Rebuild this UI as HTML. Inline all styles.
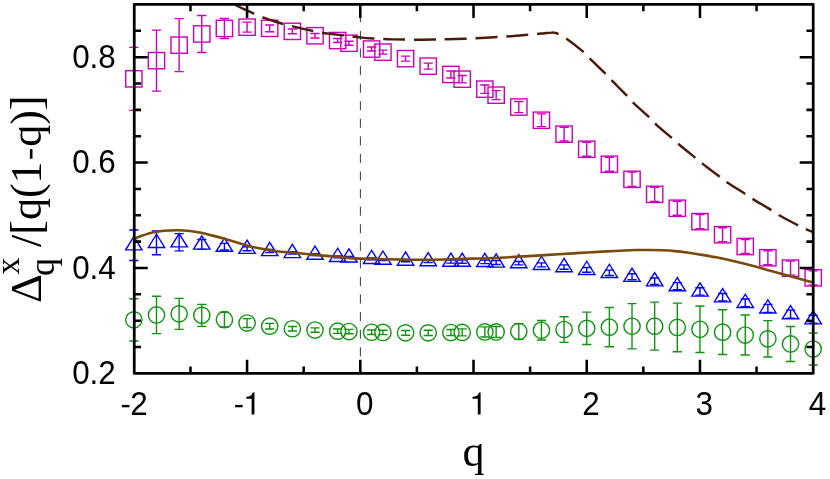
<!DOCTYPE html><html><head><meta charset="utf-8"><title>chart</title>
<style>html,body{margin:0;padding:0;background:#fff;}svg{display:block;will-change:transform;}text{font-family:"Liberation Sans",sans-serif;fill:#000;}.s{font-family:"Liberation Serif",serif;}</style></head><body>
<svg width="830" height="479" viewBox="0 0 830 479">
<rect width="830" height="479" fill="#fff"/>
<g>
<rect x="125.70" y="70.70" width="16.30" height="16.30" fill="none" stroke="#cc00b8" stroke-width="1.40"/>
<path d="M133.85,47.35V110.35M129.25,47.35H138.45M129.25,110.35H138.45" stroke="#cc00b8" stroke-width="1.40" fill="none"/>
<rect x="148.34" y="52.50" width="16.30" height="16.30" fill="none" stroke="#cc00b8" stroke-width="1.40"/>
<path d="M156.49,30.15V91.15M151.89,30.15H161.09M151.89,91.15H161.09" stroke="#cc00b8" stroke-width="1.40" fill="none"/>
<rect x="170.99" y="37.00" width="16.30" height="16.30" fill="none" stroke="#cc00b8" stroke-width="1.40"/>
<path d="M179.14,18.65V71.65M174.54,18.65H183.74M174.54,71.65H183.74" stroke="#cc00b8" stroke-width="1.40" fill="none"/>
<rect x="193.63" y="25.80" width="16.30" height="16.30" fill="none" stroke="#cc00b8" stroke-width="1.40"/>
<path d="M201.78,15.45V52.45M197.18,15.45H206.38M197.18,52.45H206.38" stroke="#cc00b8" stroke-width="1.40" fill="none"/>
<rect x="216.28" y="20.30" width="16.30" height="16.30" fill="none" stroke="#cc00b8" stroke-width="1.40"/>
<path d="M224.43,18.45V38.45M219.83,18.45H229.03M219.83,38.45H229.03" stroke="#cc00b8" stroke-width="1.40" fill="none"/>
<rect x="238.92" y="19.00" width="16.30" height="16.30" fill="none" stroke="#cc00b8" stroke-width="1.40"/>
<path d="M247.07,22.15V32.15M242.47,22.15H251.67M242.47,32.15H251.67" stroke="#cc00b8" stroke-width="1.40" fill="none"/>
<rect x="261.56" y="20.20" width="16.30" height="16.30" fill="none" stroke="#cc00b8" stroke-width="1.40"/>
<path d="M269.71,24.95V31.75M265.11,24.95H274.31M265.11,31.75H274.31" stroke="#cc00b8" stroke-width="1.40" fill="none"/>
<rect x="284.21" y="23.20" width="16.30" height="16.30" fill="none" stroke="#cc00b8" stroke-width="1.40"/>
<path d="M292.36,28.95V33.75M287.76,28.95H296.96M287.76,33.75H296.96" stroke="#cc00b8" stroke-width="1.40" fill="none"/>
<rect x="306.85" y="27.60" width="16.30" height="16.30" fill="none" stroke="#cc00b8" stroke-width="1.40"/>
<path d="M315.00,33.55V37.95M310.40,33.55H319.60M310.40,37.95H319.60" stroke="#cc00b8" stroke-width="1.40" fill="none"/>
<rect x="329.50" y="32.40" width="16.30" height="16.30" fill="none" stroke="#cc00b8" stroke-width="1.40"/>
<path d="M337.65,38.55V42.55M333.05,38.55H342.25M333.05,42.55H342.25" stroke="#cc00b8" stroke-width="1.40" fill="none"/>
<rect x="340.82" y="35.10" width="16.30" height="16.30" fill="none" stroke="#cc00b8" stroke-width="1.40"/>
<path d="M348.97,41.25V45.25M344.37,41.25H353.57M344.37,45.25H353.57" stroke="#cc00b8" stroke-width="1.40" fill="none"/>
<rect x="363.46" y="40.90" width="16.30" height="16.30" fill="none" stroke="#cc00b8" stroke-width="1.40"/>
<path d="M371.61,47.05V51.05M367.01,47.05H376.21M367.01,51.05H376.21" stroke="#cc00b8" stroke-width="1.40" fill="none"/>
<rect x="374.78" y="44.00" width="16.30" height="16.30" fill="none" stroke="#cc00b8" stroke-width="1.40"/>
<path d="M382.93,50.15V54.15M378.33,50.15H387.53M378.33,54.15H387.53" stroke="#cc00b8" stroke-width="1.40" fill="none"/>
<rect x="397.43" y="50.50" width="16.30" height="16.30" fill="none" stroke="#cc00b8" stroke-width="1.40"/>
<path d="M405.58,56.15V61.15M400.98,56.15H410.18M400.98,61.15H410.18" stroke="#cc00b8" stroke-width="1.40" fill="none"/>
<rect x="420.07" y="58.00" width="16.30" height="16.30" fill="none" stroke="#cc00b8" stroke-width="1.40"/>
<path d="M428.22,63.15V69.15M423.62,63.15H432.82M423.62,69.15H432.82" stroke="#cc00b8" stroke-width="1.40" fill="none"/>
<rect x="442.72" y="66.30" width="16.30" height="16.30" fill="none" stroke="#cc00b8" stroke-width="1.40"/>
<path d="M450.87,70.95V77.95M446.27,70.95H455.47M446.27,77.95H455.47" stroke="#cc00b8" stroke-width="1.40" fill="none"/>
<rect x="454.04" y="71.00" width="16.30" height="16.30" fill="none" stroke="#cc00b8" stroke-width="1.40"/>
<path d="M462.19,75.45V82.85M457.59,75.45H466.79M457.59,82.85H466.79" stroke="#cc00b8" stroke-width="1.40" fill="none"/>
<rect x="476.68" y="81.00" width="16.30" height="16.30" fill="none" stroke="#cc00b8" stroke-width="1.40"/>
<path d="M484.83,84.95V93.35M480.23,84.95H489.43M480.23,93.35H489.43" stroke="#cc00b8" stroke-width="1.40" fill="none"/>
<rect x="488.00" y="87.00" width="16.30" height="16.30" fill="none" stroke="#cc00b8" stroke-width="1.40"/>
<path d="M496.15,90.65V99.65M491.55,90.65H500.75M491.55,99.65H500.75" stroke="#cc00b8" stroke-width="1.40" fill="none"/>
<rect x="510.65" y="98.90" width="16.30" height="16.30" fill="none" stroke="#cc00b8" stroke-width="1.40"/>
<path d="M518.80,101.45V112.65M514.20,101.45H523.40M514.20,112.65H523.40" stroke="#cc00b8" stroke-width="1.40" fill="none"/>
<rect x="533.29" y="112.10" width="16.30" height="16.30" fill="none" stroke="#cc00b8" stroke-width="1.40"/>
<path d="M541.44,113.85V126.65M536.84,113.85H546.04M536.84,126.65H546.04" stroke="#cc00b8" stroke-width="1.40" fill="none"/>
<rect x="555.94" y="126.00" width="16.30" height="16.30" fill="none" stroke="#cc00b8" stroke-width="1.40"/>
<path d="M564.09,127.25V141.05M559.49,127.25H568.69M559.49,141.05H568.69" stroke="#cc00b8" stroke-width="1.40" fill="none"/>
<rect x="578.58" y="141.10" width="16.30" height="16.30" fill="none" stroke="#cc00b8" stroke-width="1.40"/>
<path d="M586.73,142.25V156.25M582.13,142.25H591.33M582.13,156.25H591.33" stroke="#cc00b8" stroke-width="1.40" fill="none"/>
<rect x="601.22" y="156.10" width="16.30" height="16.30" fill="none" stroke="#cc00b8" stroke-width="1.40"/>
<path d="M609.37,157.25V171.25M604.77,157.25H613.97M604.77,171.25H613.97" stroke="#cc00b8" stroke-width="1.40" fill="none"/>
<rect x="623.87" y="171.20" width="16.30" height="16.30" fill="none" stroke="#cc00b8" stroke-width="1.40"/>
<path d="M632.02,172.15V186.55M627.42,172.15H636.62M627.42,186.55H636.62" stroke="#cc00b8" stroke-width="1.40" fill="none"/>
<rect x="646.51" y="186.20" width="16.30" height="16.30" fill="none" stroke="#cc00b8" stroke-width="1.40"/>
<path d="M654.66,187.35V201.35M650.06,187.35H659.26M650.06,201.35H659.26" stroke="#cc00b8" stroke-width="1.40" fill="none"/>
<rect x="669.16" y="200.10" width="16.30" height="16.30" fill="none" stroke="#cc00b8" stroke-width="1.40"/>
<path d="M677.31,201.25V215.25M672.71,201.25H681.91M672.71,215.25H681.91" stroke="#cc00b8" stroke-width="1.40" fill="none"/>
<rect x="691.80" y="213.50" width="16.30" height="16.30" fill="none" stroke="#cc00b8" stroke-width="1.40"/>
<path d="M699.95,214.65V228.65M695.35,214.65H704.55M695.35,228.65H704.55" stroke="#cc00b8" stroke-width="1.40" fill="none"/>
<rect x="714.44" y="226.60" width="16.30" height="16.30" fill="none" stroke="#cc00b8" stroke-width="1.40"/>
<path d="M722.59,227.75V241.75M717.99,227.75H727.19M717.99,241.75H727.19" stroke="#cc00b8" stroke-width="1.40" fill="none"/>
<rect x="737.09" y="238.40" width="16.30" height="16.30" fill="none" stroke="#cc00b8" stroke-width="1.40"/>
<path d="M745.24,239.55V253.55M740.64,239.55H749.84M740.64,253.55H749.84" stroke="#cc00b8" stroke-width="1.40" fill="none"/>
<rect x="759.73" y="249.60" width="16.30" height="16.30" fill="none" stroke="#cc00b8" stroke-width="1.40"/>
<path d="M767.88,250.75V264.75M763.28,250.75H772.48M763.28,264.75H772.48" stroke="#cc00b8" stroke-width="1.40" fill="none"/>
<rect x="782.38" y="260.00" width="16.30" height="16.30" fill="none" stroke="#cc00b8" stroke-width="1.40"/>
<path d="M790.53,261.15V275.15M785.93,261.15H795.13M785.93,275.15H795.13" stroke="#cc00b8" stroke-width="1.40" fill="none"/>
<rect x="805.02" y="269.70" width="16.30" height="16.30" fill="none" stroke="#cc00b8" stroke-width="1.40"/>
<path d="M813.17,270.85V284.85M808.57,270.85H817.77M808.57,284.85H817.77" stroke="#cc00b8" stroke-width="1.40" fill="none"/>
<path d="M133.85,236.65L125.65,249.90L142.05,249.90Z" fill="none" stroke="#0000ff" stroke-width="1.40"/>
<path d="M133.85,230.03V260.43M129.25,230.03H138.45M129.25,260.43H138.45" stroke="#0000ff" stroke-width="1.40" fill="none"/>
<path d="M156.49,234.25L148.29,247.50L164.69,247.50Z" fill="none" stroke="#0000ff" stroke-width="1.40"/>
<path d="M156.49,230.93V254.73M151.89,230.93H161.09M151.89,254.73H161.09" stroke="#0000ff" stroke-width="1.40" fill="none"/>
<path d="M179.14,233.65L170.94,246.90L187.34,246.90Z" fill="none" stroke="#0000ff" stroke-width="1.40"/>
<path d="M179.14,233.63V250.83M174.54,233.63H183.74M174.54,250.83H183.74" stroke="#0000ff" stroke-width="1.40" fill="none"/>
<path d="M201.78,235.85L193.58,249.10L209.98,249.10Z" fill="none" stroke="#0000ff" stroke-width="1.40"/>
<path d="M201.78,239.53V249.33M197.18,239.53H206.38M197.18,249.33H206.38" stroke="#0000ff" stroke-width="1.40" fill="none"/>
<path d="M224.43,238.05L216.23,251.30L232.63,251.30Z" fill="none" stroke="#0000ff" stroke-width="1.40"/>
<path d="M224.43,243.33V249.93M219.83,243.33H229.03M219.83,249.93H229.03" stroke="#0000ff" stroke-width="1.40" fill="none"/>
<path d="M247.07,240.15L238.87,253.40L255.27,253.40Z" fill="none" stroke="#0000ff" stroke-width="1.40"/>
<path d="M247.07,246.73V250.73M242.47,246.73H251.67M242.47,250.73H251.67" stroke="#0000ff" stroke-width="1.40" fill="none"/>
<path d="M269.71,242.35L261.51,255.60L277.91,255.60Z" fill="none" stroke="#0000ff" stroke-width="1.40"/>
<path d="M269.71,249.43V252.43M265.11,249.43H274.31M265.11,252.43H274.31" stroke="#0000ff" stroke-width="1.40" fill="none"/>
<path d="M292.36,244.35L284.16,257.60L300.56,257.60Z" fill="none" stroke="#0000ff" stroke-width="1.40"/>
<path d="M292.36,251.73V254.13M287.76,251.73H296.96M287.76,254.13H296.96" stroke="#0000ff" stroke-width="1.40" fill="none"/>
<path d="M315.00,246.05L306.80,259.30L323.20,259.30Z" fill="none" stroke="#0000ff" stroke-width="1.40"/>
<path d="M315.00,253.63V255.63M310.40,253.63H319.60M310.40,255.63H319.60" stroke="#0000ff" stroke-width="1.40" fill="none"/>
<path d="M337.65,248.25L329.45,261.50L345.85,261.50Z" fill="none" stroke="#0000ff" stroke-width="1.40"/>
<path d="M337.65,255.83V257.83M333.05,255.83H342.25M333.05,257.83H342.25" stroke="#0000ff" stroke-width="1.40" fill="none"/>
<path d="M348.97,248.80L340.77,262.05L357.17,262.05Z" fill="none" stroke="#0000ff" stroke-width="1.40"/>
<path d="M348.97,256.38V258.38M344.37,256.38H353.57M344.37,258.38H353.57" stroke="#0000ff" stroke-width="1.40" fill="none"/>
<path d="M371.61,250.25L363.41,263.50L379.81,263.50Z" fill="none" stroke="#0000ff" stroke-width="1.40"/>
<path d="M371.61,257.83V259.83M367.01,257.83H376.21M367.01,259.83H376.21" stroke="#0000ff" stroke-width="1.40" fill="none"/>
<path d="M382.93,251.00L374.73,264.25L391.13,264.25Z" fill="none" stroke="#0000ff" stroke-width="1.40"/>
<path d="M382.93,258.58V260.58M378.33,258.58H387.53M378.33,260.58H387.53" stroke="#0000ff" stroke-width="1.40" fill="none"/>
<path d="M405.58,251.95L397.38,265.20L413.78,265.20Z" fill="none" stroke="#0000ff" stroke-width="1.40"/>
<path d="M405.58,259.33V261.73M400.98,259.33H410.18M400.98,261.73H410.18" stroke="#0000ff" stroke-width="1.40" fill="none"/>
<path d="M428.22,252.55L420.02,265.80L436.42,265.80Z" fill="none" stroke="#0000ff" stroke-width="1.40"/>
<path d="M428.22,259.83V262.43M423.62,259.83H432.82M423.62,262.43H432.82" stroke="#0000ff" stroke-width="1.40" fill="none"/>
<path d="M450.87,253.05L442.67,266.30L459.07,266.30Z" fill="none" stroke="#0000ff" stroke-width="1.40"/>
<path d="M450.87,260.13V263.13M446.27,260.13H455.47M446.27,263.13H455.47" stroke="#0000ff" stroke-width="1.40" fill="none"/>
<path d="M462.19,253.05L453.99,266.30L470.39,266.30Z" fill="none" stroke="#0000ff" stroke-width="1.40"/>
<path d="M462.19,260.03V263.23M457.59,260.03H466.79M457.59,263.23H466.79" stroke="#0000ff" stroke-width="1.40" fill="none"/>
<path d="M484.83,253.25L476.63,266.50L493.03,266.50Z" fill="none" stroke="#0000ff" stroke-width="1.40"/>
<path d="M484.83,260.03V263.63M480.23,260.03H489.43M480.23,263.63H489.43" stroke="#0000ff" stroke-width="1.40" fill="none"/>
<path d="M496.15,253.85L487.95,267.10L504.35,267.10Z" fill="none" stroke="#0000ff" stroke-width="1.40"/>
<path d="M496.15,260.43V264.43M491.55,260.43H500.75M491.55,264.43H500.75" stroke="#0000ff" stroke-width="1.40" fill="none"/>
<path d="M518.80,254.55L510.60,267.80L527.00,267.80Z" fill="none" stroke="#0000ff" stroke-width="1.40"/>
<path d="M518.80,261.43V264.83M514.20,261.43H523.40M514.20,264.83H523.40" stroke="#0000ff" stroke-width="1.40" fill="none"/>
<path d="M541.44,256.25L533.24,269.50L549.64,269.50Z" fill="none" stroke="#0000ff" stroke-width="1.40"/>
<path d="M541.44,262.83V266.83M536.84,262.83H546.04M536.84,266.83H546.04" stroke="#0000ff" stroke-width="1.40" fill="none"/>
<path d="M564.09,258.45L555.89,271.70L572.29,271.70Z" fill="none" stroke="#0000ff" stroke-width="1.40"/>
<path d="M564.09,264.83V269.23M559.49,264.83H568.69M559.49,269.23H568.69" stroke="#0000ff" stroke-width="1.40" fill="none"/>
<path d="M586.73,261.25L578.53,274.50L594.93,274.50Z" fill="none" stroke="#0000ff" stroke-width="1.40"/>
<path d="M586.73,267.43V272.23M582.13,267.43H591.33M582.13,272.23H591.33" stroke="#0000ff" stroke-width="1.40" fill="none"/>
<path d="M609.37,264.25L601.17,277.50L617.57,277.50Z" fill="none" stroke="#0000ff" stroke-width="1.40"/>
<path d="M609.37,270.13V275.53M604.77,270.13H613.97M604.77,275.53H613.97" stroke="#0000ff" stroke-width="1.40" fill="none"/>
<path d="M632.02,268.15L623.82,281.40L640.22,281.40Z" fill="none" stroke="#0000ff" stroke-width="1.40"/>
<path d="M632.02,273.73V279.73M627.42,273.73H636.62M627.42,279.73H636.62" stroke="#0000ff" stroke-width="1.40" fill="none"/>
<path d="M654.66,272.65L646.46,285.90L662.86,285.90Z" fill="none" stroke="#0000ff" stroke-width="1.40"/>
<path d="M654.66,277.93V284.53M650.06,277.93H659.26M650.06,284.53H659.26" stroke="#0000ff" stroke-width="1.40" fill="none"/>
<path d="M677.31,277.55L669.11,290.80L685.51,290.80Z" fill="none" stroke="#0000ff" stroke-width="1.40"/>
<path d="M677.31,282.63V289.63M672.71,282.63H681.91M672.71,289.63H681.91" stroke="#0000ff" stroke-width="1.40" fill="none"/>
<path d="M699.95,282.85L691.75,296.10L708.15,296.10Z" fill="none" stroke="#0000ff" stroke-width="1.40"/>
<path d="M699.95,287.73V295.13M695.35,287.73H704.55M695.35,295.13H704.55" stroke="#0000ff" stroke-width="1.40" fill="none"/>
<path d="M722.59,288.65L714.39,301.90L730.79,301.90Z" fill="none" stroke="#0000ff" stroke-width="1.40"/>
<path d="M722.59,293.43V301.03M717.99,293.43H727.19M717.99,301.03H727.19" stroke="#0000ff" stroke-width="1.40" fill="none"/>
<path d="M745.24,294.25L737.04,307.50L753.44,307.50Z" fill="none" stroke="#0000ff" stroke-width="1.40"/>
<path d="M745.24,298.93V306.73M740.64,298.93H749.84M740.64,306.73H749.84" stroke="#0000ff" stroke-width="1.40" fill="none"/>
<path d="M767.88,299.75L759.68,313.00L776.08,313.00Z" fill="none" stroke="#0000ff" stroke-width="1.40"/>
<path d="M767.88,304.33V312.33M763.28,304.33H772.48M763.28,312.33H772.48" stroke="#0000ff" stroke-width="1.40" fill="none"/>
<path d="M790.53,305.55L782.33,318.80L798.73,318.80Z" fill="none" stroke="#0000ff" stroke-width="1.40"/>
<path d="M790.53,310.13V318.13M785.93,310.13H795.13M785.93,318.13H795.13" stroke="#0000ff" stroke-width="1.40" fill="none"/>
<path d="M813.17,310.65L804.97,323.90L821.37,323.90Z" fill="none" stroke="#0000ff" stroke-width="1.40"/>
<path d="M813.17,315.23V323.23M808.57,315.23H817.77M808.57,323.23H817.77" stroke="#0000ff" stroke-width="1.40" fill="none"/>
<circle cx="133.85" cy="319.85" r="8.15" fill="none" stroke="#109410" stroke-width="1.40"/>
<path d="M133.85,298.75V340.95M129.25,298.75H138.45M129.25,340.95H138.45" stroke="#109410" stroke-width="1.40" fill="none"/>
<circle cx="156.49" cy="314.95" r="8.15" fill="none" stroke="#109410" stroke-width="1.40"/>
<path d="M156.49,296.30V333.60M151.89,296.30H161.09M151.89,333.60H161.09" stroke="#109410" stroke-width="1.40" fill="none"/>
<circle cx="179.14" cy="313.85" r="8.15" fill="none" stroke="#109410" stroke-width="1.40"/>
<path d="M179.14,298.35V329.35M174.54,298.35H183.74M174.54,329.35H183.74" stroke="#109410" stroke-width="1.40" fill="none"/>
<circle cx="201.78" cy="315.35" r="8.15" fill="none" stroke="#109410" stroke-width="1.40"/>
<path d="M201.78,304.35V326.35M197.18,304.35H206.38M197.18,326.35H206.38" stroke="#109410" stroke-width="1.40" fill="none"/>
<circle cx="224.43" cy="319.65" r="8.15" fill="none" stroke="#109410" stroke-width="1.40"/>
<path d="M224.43,312.25V327.05M219.83,312.25H229.03M219.83,327.05H229.03" stroke="#109410" stroke-width="1.40" fill="none"/>
<circle cx="247.07" cy="323.05" r="8.15" fill="none" stroke="#109410" stroke-width="1.40"/>
<path d="M247.07,318.65V327.45M242.47,318.65H251.67M242.47,327.45H251.67" stroke="#109410" stroke-width="1.40" fill="none"/>
<circle cx="269.71" cy="326.15" r="8.15" fill="none" stroke="#109410" stroke-width="1.40"/>
<path d="M269.71,323.35V328.95M265.11,323.35H274.31M265.11,328.95H274.31" stroke="#109410" stroke-width="1.40" fill="none"/>
<circle cx="292.36" cy="328.75" r="8.15" fill="none" stroke="#109410" stroke-width="1.40"/>
<path d="M292.36,326.45V331.05M287.76,326.45H296.96M287.76,331.05H296.96" stroke="#109410" stroke-width="1.40" fill="none"/>
<circle cx="315.00" cy="330.05" r="8.15" fill="none" stroke="#109410" stroke-width="1.40"/>
<path d="M315.00,327.85V332.25M310.40,327.85H319.60M310.40,332.25H319.60" stroke="#109410" stroke-width="1.40" fill="none"/>
<circle cx="337.65" cy="331.15" r="8.15" fill="none" stroke="#109410" stroke-width="1.40"/>
<path d="M337.65,328.95V333.35M333.05,328.95H342.25M333.05,333.35H342.25" stroke="#109410" stroke-width="1.40" fill="none"/>
<circle cx="348.97" cy="331.55" r="8.15" fill="none" stroke="#109410" stroke-width="1.40"/>
<path d="M348.97,329.35V333.75M344.37,329.35H353.57M344.37,333.75H353.57" stroke="#109410" stroke-width="1.40" fill="none"/>
<circle cx="371.61" cy="332.25" r="8.15" fill="none" stroke="#109410" stroke-width="1.40"/>
<path d="M371.61,330.05V334.45M367.01,330.05H376.21M367.01,334.45H376.21" stroke="#109410" stroke-width="1.40" fill="none"/>
<circle cx="382.93" cy="332.45" r="8.15" fill="none" stroke="#109410" stroke-width="1.40"/>
<path d="M382.93,330.25V334.65M378.33,330.25H387.53M378.33,334.65H387.53" stroke="#109410" stroke-width="1.40" fill="none"/>
<circle cx="405.58" cy="332.85" r="8.15" fill="none" stroke="#109410" stroke-width="1.40"/>
<path d="M405.58,330.45V335.25M400.98,330.45H410.18M400.98,335.25H410.18" stroke="#109410" stroke-width="1.40" fill="none"/>
<circle cx="428.22" cy="332.85" r="8.15" fill="none" stroke="#109410" stroke-width="1.40"/>
<path d="M428.22,330.25V335.45M423.62,330.25H432.82M423.62,335.45H432.82" stroke="#109410" stroke-width="1.40" fill="none"/>
<circle cx="450.87" cy="332.55" r="8.15" fill="none" stroke="#109410" stroke-width="1.40"/>
<path d="M450.87,329.55V335.55M446.27,329.55H455.47M446.27,335.55H455.47" stroke="#109410" stroke-width="1.40" fill="none"/>
<circle cx="462.19" cy="332.40" r="8.15" fill="none" stroke="#109410" stroke-width="1.40"/>
<path d="M462.19,328.90V335.90M457.59,328.90H466.79M457.59,335.90H466.79" stroke="#109410" stroke-width="1.40" fill="none"/>
<circle cx="484.83" cy="331.95" r="8.15" fill="none" stroke="#109410" stroke-width="1.40"/>
<path d="M484.83,326.85V337.05M480.23,326.85H489.43M480.23,337.05H489.43" stroke="#109410" stroke-width="1.40" fill="none"/>
<circle cx="496.15" cy="331.95" r="8.15" fill="none" stroke="#109410" stroke-width="1.40"/>
<path d="M496.15,326.55V337.35M491.55,326.55H500.75M491.55,337.35H500.75" stroke="#109410" stroke-width="1.40" fill="none"/>
<circle cx="518.80" cy="331.55" r="8.15" fill="none" stroke="#109410" stroke-width="1.40"/>
<path d="M518.80,323.75V339.35M514.20,323.75H523.40M514.20,339.35H523.40" stroke="#109410" stroke-width="1.40" fill="none"/>
<circle cx="541.44" cy="330.25" r="8.15" fill="none" stroke="#109410" stroke-width="1.40"/>
<path d="M541.44,320.45V340.05M536.84,320.45H546.04M536.84,340.05H546.04" stroke="#109410" stroke-width="1.40" fill="none"/>
<circle cx="564.09" cy="329.55" r="8.15" fill="none" stroke="#109410" stroke-width="1.40"/>
<path d="M564.09,316.75V342.35M559.49,316.75H568.69M559.49,342.35H568.69" stroke="#109410" stroke-width="1.40" fill="none"/>
<circle cx="586.73" cy="328.35" r="8.15" fill="none" stroke="#109410" stroke-width="1.40"/>
<path d="M586.73,312.15V344.55M582.13,312.15H591.33M582.13,344.55H591.33" stroke="#109410" stroke-width="1.40" fill="none"/>
<circle cx="609.37" cy="327.15" r="8.15" fill="none" stroke="#109410" stroke-width="1.40"/>
<path d="M609.37,307.55V346.75M604.77,307.55H613.97M604.77,346.75H613.97" stroke="#109410" stroke-width="1.40" fill="none"/>
<circle cx="632.02" cy="326.25" r="8.15" fill="none" stroke="#109410" stroke-width="1.40"/>
<path d="M632.02,303.65V348.85M627.42,303.65H636.62M627.42,348.85H636.62" stroke="#109410" stroke-width="1.40" fill="none"/>
<circle cx="654.66" cy="326.15" r="8.15" fill="none" stroke="#109410" stroke-width="1.40"/>
<path d="M654.66,302.15V350.15M650.06,302.15H659.26M650.06,350.15H659.26" stroke="#109410" stroke-width="1.40" fill="none"/>
<circle cx="677.31" cy="327.45" r="8.15" fill="none" stroke="#109410" stroke-width="1.40"/>
<path d="M677.31,303.15V351.75M672.71,303.15H681.91M672.71,351.75H681.91" stroke="#109410" stroke-width="1.40" fill="none"/>
<circle cx="699.95" cy="329.25" r="8.15" fill="none" stroke="#109410" stroke-width="1.40"/>
<path d="M699.95,305.95V352.55M695.35,305.95H704.55M695.35,352.55H704.55" stroke="#109410" stroke-width="1.40" fill="none"/>
<circle cx="722.59" cy="332.15" r="8.15" fill="none" stroke="#109410" stroke-width="1.40"/>
<path d="M722.59,309.75V354.55M717.99,309.75H727.19M717.99,354.55H727.19" stroke="#109410" stroke-width="1.40" fill="none"/>
<circle cx="745.24" cy="335.05" r="8.15" fill="none" stroke="#109410" stroke-width="1.40"/>
<path d="M745.24,315.05V355.05M740.64,315.05H749.84M740.64,355.05H749.84" stroke="#109410" stroke-width="1.40" fill="none"/>
<circle cx="767.88" cy="338.85" r="8.15" fill="none" stroke="#109410" stroke-width="1.40"/>
<path d="M767.88,320.65V357.05M763.28,320.65H772.48M763.28,357.05H772.48" stroke="#109410" stroke-width="1.40" fill="none"/>
<circle cx="790.53" cy="343.95" r="8.15" fill="none" stroke="#109410" stroke-width="1.40"/>
<path d="M790.53,326.45V361.45M785.93,326.45H795.13M785.93,361.45H795.13" stroke="#109410" stroke-width="1.40" fill="none"/>
<circle cx="813.17" cy="349.05" r="8.15" fill="none" stroke="#109410" stroke-width="1.40"/>
<path d="M813.17,333.05V365.05M808.57,333.05H817.77M808.57,365.05H817.77" stroke="#109410" stroke-width="1.40" fill="none"/>
</g>
<path d="M235.20,4.80 C236.67,5.53 240.75,7.68 244.00,9.20 C247.25,10.72 251.58,12.55 254.70,13.90 C257.82,15.25 259.82,16.20 262.70,17.30 C265.58,18.40 268.57,19.38 272.00,20.50 C275.43,21.62 279.97,23.05 283.30,24.00 C286.63,24.95 288.88,25.43 292.00,26.20 C295.12,26.97 298.45,27.80 302.00,28.60 C305.55,29.40 309.97,30.32 313.30,31.00 C316.63,31.68 318.88,32.20 322.00,32.70 C325.12,33.20 328.47,33.55 332.00,34.00 C335.53,34.45 339.87,35.00 343.20,35.40 C346.53,35.80 348.87,36.03 352.00,36.40 C355.13,36.77 358.45,37.25 362.00,37.60 C365.55,37.95 369.93,38.27 373.30,38.50 C376.67,38.73 379.08,38.85 382.20,39.00 C385.32,39.15 388.15,39.30 392.00,39.40 C395.85,39.50 400.63,39.55 405.30,39.60 C409.97,39.65 415.18,39.72 420.00,39.70 C424.82,39.68 429.82,39.58 434.20,39.50 C438.58,39.42 441.28,39.33 446.30,39.20 C451.32,39.07 459.55,38.85 464.30,38.70 C469.05,38.55 469.35,38.58 474.80,38.30 C480.25,38.02 491.80,37.28 497.00,37.00 C502.20,36.72 500.87,36.98 506.00,36.60 C511.13,36.22 522.72,35.12 527.80,34.70 C532.88,34.28 533.63,34.35 536.50,34.10 C539.37,33.85 542.43,33.45 545.00,33.20 C547.57,32.95 550.15,32.65 551.90,32.60 C553.65,32.55 554.37,32.65 555.50,32.90 C556.63,33.15 556.98,33.20 558.70,34.10 C560.42,35.00 561.78,35.42 565.80,38.30 C569.82,41.18 578.92,48.15 582.80,51.40 C586.68,54.65 585.40,54.17 589.10,57.80 C592.80,61.43 601.33,69.53 605.00,73.20 C608.67,76.87 607.58,76.20 611.10,79.80 C614.62,83.40 622.57,91.12 626.10,94.80 C629.63,98.48 628.25,97.98 632.30,101.90 C636.35,105.82 646.37,114.48 650.40,118.30 C654.43,122.12 652.78,121.38 656.50,124.80 C660.22,128.22 668.88,135.47 672.70,138.80 C676.52,142.13 675.47,141.50 679.40,144.80 C683.33,148.10 692.37,155.38 696.30,158.60 C700.23,161.82 698.87,160.90 703.00,164.10 C707.13,167.30 717.00,174.70 721.10,177.80 C725.20,180.90 723.38,179.88 727.60,182.70 C731.82,185.52 742.27,192.02 746.40,194.70 C750.53,197.38 748.38,196.32 752.40,198.80 C756.42,201.28 766.20,206.95 770.50,209.60 C774.80,212.25 773.78,212.17 778.20,214.70 C782.62,217.23 792.70,222.52 797.00,224.80 C801.30,227.08 801.32,227.20 804.00,228.40 C806.68,229.60 811.58,231.40 813.10,232.00" fill="none" stroke="#4a1a0a" stroke-width="2.45" stroke-dasharray="21.8 9" stroke-dashoffset="0.8"/>
<path d="M133.90,238.80 C135.33,238.27 139.25,236.68 142.50,235.60 C145.75,234.52 149.78,233.10 153.40,232.30 C157.02,231.50 160.23,231.15 164.20,230.80 C168.17,230.45 172.87,230.17 177.20,230.20 C181.53,230.23 186.22,230.57 190.20,231.00 C194.18,231.43 197.48,232.07 201.10,232.80 C204.72,233.53 208.28,234.50 211.90,235.40 C215.52,236.30 219.18,237.20 222.80,238.20 C226.42,239.20 229.98,240.32 233.60,241.40 C237.22,242.48 240.88,243.68 244.50,244.70 C248.12,245.72 251.70,246.70 255.30,247.50 C258.90,248.30 262.48,248.88 266.10,249.50 C269.72,250.12 273.02,250.70 277.00,251.20 C280.98,251.70 285.88,252.12 290.00,252.50 C294.12,252.88 298.03,253.15 301.70,253.50 C305.37,253.85 308.38,254.25 312.00,254.60 C315.62,254.95 319.73,255.27 323.40,255.60 C327.07,255.93 330.40,256.27 334.00,256.60 C337.60,256.93 340.63,257.27 345.00,257.60 C349.37,257.93 352.97,258.32 360.20,258.60 C367.43,258.88 380.08,259.12 388.40,259.30 C396.72,259.48 402.87,259.63 410.10,259.70 C417.33,259.77 424.32,259.80 431.80,259.70 C439.28,259.60 448.35,259.28 455.00,259.10 C461.65,258.92 465.30,258.78 471.70,258.60 C478.10,258.42 486.18,258.28 493.40,258.00 C500.62,257.72 507.78,257.30 515.00,256.90 C522.22,256.50 529.47,256.03 536.70,255.60 C543.93,255.17 551.17,254.75 558.40,254.30 C565.63,253.85 572.87,253.35 580.10,252.90 C587.33,252.45 595.15,251.97 601.80,251.60 C608.45,251.23 614.47,250.96 620.00,250.70 C625.53,250.44 630.00,250.17 635.00,250.05 C640.00,249.93 645.50,249.96 650.00,250.00 C654.50,250.04 657.83,250.12 662.00,250.30 C666.17,250.48 670.83,250.73 675.00,251.10 C679.17,251.47 683.15,251.98 687.00,252.50 C690.85,253.02 693.25,253.40 698.10,254.20 C702.95,255.00 710.08,256.13 716.10,257.30 C722.12,258.47 728.17,259.80 734.20,261.20 C740.23,262.60 746.27,264.12 752.30,265.70 C758.33,267.28 764.38,269.03 770.40,270.70 C776.42,272.37 782.38,274.03 788.40,275.70 C794.42,277.37 802.32,279.55 806.50,280.70 C810.68,281.85 812.33,282.28 813.50,282.60" fill="none" stroke="#7a4a0c" stroke-width="2.6"/>
<line x1="360.4" y1="373.9" x2="360.4" y2="4" stroke="#222" stroke-width="0.9" stroke-dasharray="9 8.58"/>
<rect x="134.25" y="4.45" width="678.95" height="368.90" fill="none" stroke="#000" stroke-linejoin="round" stroke-width="2.75"/>
<path d="M190.46,373.35v-6.80M190.46,4.45v6.80M247.07,373.35v-13.50M247.07,4.45v13.50M303.68,373.35v-6.80M303.68,4.45v6.80M360.29,373.35v-13.50M360.29,4.45v13.50M416.90,373.35v-6.80M416.90,4.45v6.80M473.51,373.35v-13.50M473.51,4.45v13.50M530.12,373.35v-6.80M530.12,4.45v6.80M586.73,373.35v-13.50M586.73,4.45v13.50M643.34,373.35v-6.80M643.34,4.45v6.80M699.95,373.35v-13.50M699.95,4.45v13.50M756.56,373.35v-6.80M756.56,4.45v6.80M134.25,347.00h6.80M813.20,347.00h-6.80M134.25,320.65h6.80M813.20,320.65h-6.80M134.25,294.30h6.80M813.20,294.30h-6.80M134.25,267.95h13.50M813.20,267.95h-13.50M134.25,241.60h6.80M813.20,241.60h-6.80M134.25,215.25h6.80M813.20,215.25h-6.80M134.25,188.90h6.80M813.20,188.90h-6.80M134.25,162.55h13.50M813.20,162.55h-13.50M134.25,136.20h6.80M813.20,136.20h-6.80M134.25,109.85h6.80M813.20,109.85h-6.80M134.25,83.50h6.80M813.20,83.50h-6.80M134.25,57.15h13.50M813.20,57.15h-13.50M134.25,30.80h6.80M813.20,30.80h-6.80" stroke="#000" stroke-width="2.55" fill="none"/>
<rect x="121.87" y="404.90" width="7.54" height="2.40" fill="#000"/>
<text transform="translate(130.35,414.50) scale(1,1.030)" font-size="31.4" text-anchor="start">2</text>
<rect x="235.09" y="404.90" width="7.54" height="2.40" fill="#000"/>
<path d="M251.62,414.50 L251.62,398.64 L246.34,398.64 L246.34,396.66 C249.76,396.60 252.12,395.35 252.68,392.43 L254.44,392.43 L254.44,414.50 Z" fill="#000"/>
<text transform="translate(355.93,414.50) scale(1,1.030)" font-size="31.4" text-anchor="start">0</text>
<path d="M477.79,414.50 L477.79,398.64 L472.52,398.64 L472.52,396.66 C475.94,396.60 478.29,395.35 478.86,392.43 L480.62,392.43 L480.62,414.50 Z" fill="#000"/>
<text transform="translate(582.37,414.50) scale(1,1.030)" font-size="31.4" text-anchor="start">2</text>
<text transform="translate(695.59,414.50) scale(1,1.030)" font-size="31.4" text-anchor="start">3</text>
<text transform="translate(808.81,414.50) scale(1,1.030)" font-size="31.4" text-anchor="start">4</text>
<text transform="translate(115.80,383.95) scale(1,1.030)" font-size="31.4" text-anchor="end">0.2</text>
<text transform="translate(115.80,278.55) scale(1,1.030)" font-size="31.4" text-anchor="end">0.4</text>
<text transform="translate(115.80,173.15) scale(1,1.030)" font-size="31.4" text-anchor="end">0.6</text>
<text transform="translate(115.80,67.75) scale(1,1.030)" font-size="31.4" text-anchor="end">0.8</text>
<text class="s" x="473.5" y="466.0" font-size="44" text-anchor="middle">q</text>
<g transform="translate(41.3,0) rotate(-90)">
<text class="s" x="-302.9" y="0" font-size="45">Δ</text>
<text class="s" x="-274.6" y="-22.5" font-size="34">x</text>
<text class="s" x="-276" y="12.4" font-size="36">q</text>
<text class="s" x="-247.0" y="0" font-size="44">/[q(1</text>
<rect x="-158.8" y="-11.4" width="9.7" height="2.6" fill="#000"/>
<text class="s" x="-146.8" y="0" font-size="44">q)]</text>
</g>
</svg></body></html>
